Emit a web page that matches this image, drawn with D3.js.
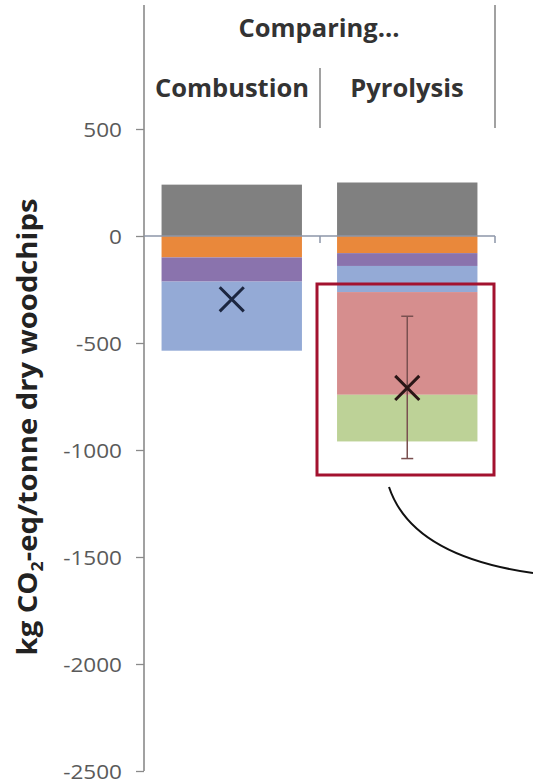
<!DOCTYPE html>
<html>
<head>
<meta charset="utf-8">
<script src="https://cdn.jsdelivr.net/npm/d3@7"></script>
<style>
  html, body { margin: 0; padding: 0; background: #fff; }
  svg { display: block; }
</style>
</head>
<body>
<svg id="chart" width="533" height="784"></svg>
<script>
// Processes compared
const categories = ["Combustion", "Pyrolysis"];
// Stack components (kg CO2-eq per tonne dry woodchips)
const seriesNames = ["Emissions", "Heat", "Electricity", "Fossil fuel offset", "Biochar carbon", "Soil effects"];
const seriesColors = ["#808080", "#e9883b", "#8a73ad", "#94aad6", "#d68e8e", "#bdd297"];
const emissions   = [240, 250];
const heat        = [-100, -80];
const electricity = [-113, -60];
const fossilOffset = [-323, -122];
const biocharC    = [0, -480];
const soilEffects = [0, -218];
// Uncertainty range on the net result (Pyrolysis only)
const errLow  = [null, -1040];
const errHigh = [null, -375];
const yTicks = [500, 0, -500, -1000, -1500, -2000, -2500];

const svg = d3.select("#chart");
const font = "'Open Sans', sans-serif";

const y = d3.scaleLinear().domain([-2500, 500]).range([771, 129]);
const x = d3.scaleBand().domain(categories).range([144, 495])
  .paddingInner(0.2).paddingOuter(0.1);

const seriesValues = [emissions, heat, electricity, fossilOffset, biocharC, soilEffects];

// Build stacked segments: positives stack upward, negatives downward from zero
const segments = [];
categories.forEach((c, ci) => {
  let pos = 0, neg = 0;
  seriesValues.forEach((vals, si) => {
    const v = vals[ci];
    if (!v) return;
    let y0, y1;
    if (v >= 0) { y0 = pos; y1 = pos + v; pos = y1; }
    else { y0 = neg; y1 = neg + v; neg = y1; }
    segments.push({ cat: c, series: si, y0, y1 });
  });
});
const net = categories.map((c, ci) => d3.sum(seriesValues, vals => vals[ci]));

// Bars
svg.append("g").selectAll("rect").data(segments).join("rect")
  .attr("x", d => x(d.cat))
  .attr("width", x.bandwidth())
  .attr("y", d => y(Math.max(d.y0, d.y1)))
  .attr("height", d => Math.abs(y(d.y0) - y(d.y1)))
  .attr("fill", d => seriesColors[d.series]);

// Y axis
const yAxis = d3.axisLeft(y).tickValues(yTicks).tickSize(8).tickSizeOuter(0)
  .tickFormat(d3.format("d"));
const gy = svg.append("g").attr("transform", "translate(144,0)").call(yAxis);
gy.select(".domain").remove();
gy.selectAll(".tick line").attr("stroke", "#8a8a8a").attr("stroke-width", 1.3);
gy.selectAll(".tick text").attr("font-family", font).attr("font-size", 20.5)
  .attr("fill", "#5a5a5a").attr("x", 0).attr("dy", "0.36em")
  .attr("transform", "translate(-22,0) scale(1.1,1)")
  .text(d => d < 0 ? "-" + Math.abs(d) : d);
// Vertical axis line running up through the header
svg.append("line").attr("x1", 144).attr("x2", 144).attr("y1", 5).attr("y2", y(-2500))
  .attr("stroke", "#8a8a8a").attr("stroke-width", 1.6);

// Horizontal zero line with category boundary ticks
svg.append("line").attr("x1", 144).attr("x2", 495).attr("y1", y(0)).attr("y2", y(0))
  .attr("stroke", "#8c96a8").attr("stroke-width", 1.5);
const boundaries = [x(categories[0]) + x.step() * 0.9 + 0.5, 495];
svg.append("g").selectAll("line").data(boundaries).join("line")
  .attr("x1", d => d).attr("x2", d => d)
  .attr("y1", y(0)).attr("y2", y(0) + 7)
  .attr("stroke", "#8c96a8").attr("stroke-width", 1.5);

// Header: grouping labels
svg.append("line").attr("x1", 495).attr("x2", 495).attr("y1", 5).attr("y2", 128)
  .attr("stroke", "#8a8a8a").attr("stroke-width", 1.6);
svg.append("line").attr("x1", boundaries[0]).attr("x2", boundaries[0]).attr("y1", 68).attr("y2", 128)
  .attr("stroke", "#8a8a8a").attr("stroke-width", 1.6);
svg.append("text").attr("x", 319).attr("y", 37).attr("text-anchor", "middle")
  .attr("font-family", font).attr("font-weight", 700).attr("font-size", 25.5)
  .attr("fill", "#333").text("Comparing...");
svg.append("g").selectAll("text").data(categories).join("text")
  .attr("x", (d, i) => [232, 407][i])
  .attr("y", 97).attr("text-anchor", "middle")
  .attr("font-family", font).attr("font-weight", 700).attr("font-size", 25.5)
  .attr("fill", "#333").text(d => d);

// Error bar
const errData = categories.map((c, i) => ({ c, lo: errLow[i], hi: errHigh[i] })).filter(d => d.lo != null);
const eg = svg.append("g").attr("stroke", "#7a5050").attr("stroke-width", 1.5);
errData.forEach(d => {
  const cx = x(d.c) + x.bandwidth() / 2;
  eg.append("line").attr("x1", cx).attr("x2", cx).attr("y1", y(d.hi)).attr("y2", y(d.lo));
  eg.append("line").attr("x1", cx - 6).attr("x2", cx + 6).attr("y1", y(d.hi)).attr("y2", y(d.hi));
  eg.append("line").attr("x1", cx - 6).attr("x2", cx + 6).attr("y1", y(d.lo)).attr("y2", y(d.lo));
});

// Net result markers
const markerColors = ["#1c2640", "#2a1616"];
svg.append("g").selectAll("path").data(categories).join("path")
  .attr("transform", (d, i) => `translate(${x(d) + x.bandwidth() / 2},${y(net[i])})`)
  .attr("d", d3.symbol().type(d3.symbolTimes).size(380))
  .attr("fill", "none")
  .attr("stroke", (d, i) => markerColors[i])
  .attr("stroke-width", 3);

// Highlight box around the Pyrolysis biochar segments
svg.append("rect").attr("x", 317).attr("y", 284).attr("width", 177).attr("height", 191)
  .attr("fill", "none").attr("stroke", "#a3122f").attr("stroke-width", 3);

// Connector curve leading off to the right
const p = d3.path();
p.moveTo(389, 487);
p.quadraticCurveTo(412, 556, 533, 573);
svg.append("path").attr("d", p.toString()).attr("fill", "none")
  .attr("stroke", "#111").attr("stroke-width", 2);

// Y axis title, stretched to span its full run along the axis
const title = svg.append("text")
  .attr("text-anchor", "middle")
  .attr("font-family", font).attr("font-weight", 700).attr("font-size", 27)
  .attr("fill", "#222");
title.append("tspan").text("kg CO");
title.append("tspan").attr("font-size", 16.5).attr("dy", 6).text("2");
title.append("tspan").attr("dy", -6).text("-eq/tonne dry woodchips");
const len = title.node().getComputedTextLength();
const sx = 457 / len;
title.attr("transform", `translate(37,427) rotate(-90) scale(${sx},1)`);
</script>
</body>
</html>
